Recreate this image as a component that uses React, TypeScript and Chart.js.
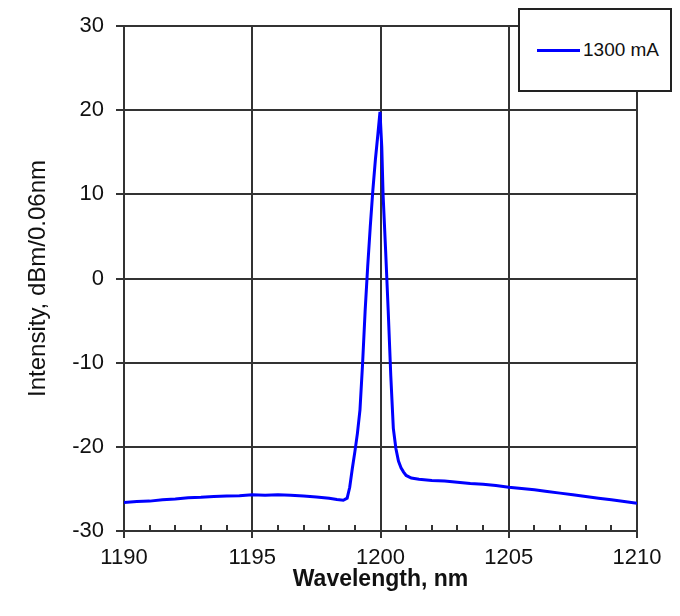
import React, { useEffect, useRef } from "react";
import { Chart, registerables } from "chart.js";

Chart.register(...registerables);

const wavelengths = [
  1190.0, 1190.5, 1191.0, 1191.5, 1192.0, 1192.5, 1193.0, 1193.5, 1194.0, 1194.5,
  1195.0, 1195.5, 1196.0, 1196.5, 1197.0, 1197.5, 1198.0, 1198.3, 1198.55, 1198.7,
  1198.8, 1198.9, 1199.0, 1199.1, 1199.2, 1199.3, 1199.4, 1199.5, 1199.6, 1199.7,
  1199.8, 1199.9, 1199.98, 1200.05, 1200.1, 1200.2, 1200.3, 1200.4, 1200.5,
  1200.6, 1200.7, 1200.8, 1200.9, 1201.0, 1201.2, 1201.5, 1202.0, 1202.5,
  1203.0, 1203.5, 1204.0, 1204.5, 1205.0, 1205.5, 1206.0, 1206.5, 1207.0, 1207.5,
  1208.0, 1208.5, 1209.0, 1209.5, 1210.0,
];

const intensity1300 = [
  -26.6, -26.5, -26.45, -26.3, -26.2, -26.05, -26.0, -25.9, -25.85, -25.8,
  -25.7, -25.75, -25.7, -25.75, -25.85, -25.95, -26.1, -26.25, -26.35, -26.1,
  -24.8, -22.6, -20.6, -18.4, -15.6, -10.2, -3.9, 1.4, 6.1, 10.4,
  14.1, 17.2, 19.8, 15.6, 10.0, 3.3, -3.8, -11.5, -17.8,
  -20.2, -21.7, -22.5, -23.0, -23.4, -23.7, -23.85, -24.0, -24.05,
  -24.2, -24.35, -24.45, -24.6, -24.8, -24.95, -25.1, -25.3, -25.5, -25.7,
  -25.9, -26.1, -26.3, -26.5, -26.7,
];

const seriesLabel = "1300 mA";
const xTitle = "Wavelength, nm";
const yTitle = "Intensity, dBm/0.06nm";
const xMin = 1190;
const xMax = 1210;
const xMajorStep = 5;
const xMinorStep = 1;
const yMin = -30;
const yMax = 30;
const yStep = 10;

const FONT = "'Liberation Sans', Arial, sans-serif";
const GRID = "#333333";

const minorTicks = {
  id: "minorTicks",
  afterDraw(chart: any) {
    const xs = chart.scales.x;
    const ctx = chart.ctx;
    const yPix = chart.chartArea.bottom;
    ctx.save();
    ctx.strokeStyle = GRID;
    ctx.lineWidth = 2;
    for (let v = xMin; v <= xMax; v += xMinorStep) {
      if (v % xMajorStep === 0) continue;
      const px = Math.round(xs.getPixelForValue(v));
      ctx.beginPath();
      ctx.moveTo(px, yPix);
      ctx.lineTo(px, yPix - 6);
      ctx.stroke();
    }
    ctx.restore();
  },
};

export default function App() {
  const ref = useRef<HTMLCanvasElement | null>(null);

  useEffect(() => {
    if (!ref.current) return;
    const data = wavelengths.map((x, i) => ({ x, y: intensity1300[i] }));
    const chart = new Chart(ref.current, {
      type: "line",
      data: {
        datasets: [
          {
            label: seriesLabel,
            data,
            borderColor: "#0000ff",
            backgroundColor: "#0000ff",
            borderWidth: 3,
            pointRadius: 0,
            tension: 0,
            fill: false,
          },
        ],
      },
      options: {
        responsive: false,
        animation: false,
        layout: { padding: { top: 26, right: 43, left: 0, bottom: 0 } },
        plugins: { legend: { display: false }, tooltip: { enabled: false } },
        scales: {
          x: {
            type: "linear",
            min: xMin,
            max: xMax,
            afterFit: (s: any) => {
              s.height = 85;
            },
            ticks: {
              stepSize: xMajorStep,
              color: "#111",
              font: { family: FONT, size: 22 },
              padding: 7,
              maxRotation: 0,
              callback: (v: any) => String(v),
            },
            grid: { color: GRID, lineWidth: 2, tickLength: 7, tickColor: GRID },
            border: { color: GRID, width: 2 },
            title: {
              display: true,
              text: xTitle,
              color: "#111",
              font: { family: FONT, size: 23, weight: "bold" },
              padding: { top: 0, bottom: 23 },
            },
          },
          y: {
            type: "linear",
            min: yMin,
            max: yMax,
            afterFit: (s: any) => {
              s.width = 124;
            },
            ticks: {
              stepSize: yStep,
              color: "#111",
              font: { family: FONT, size: 22 },
              padding: 12,
            },
            grid: { color: GRID, lineWidth: 2, tickLength: 8, tickColor: GRID },
            border: { color: GRID, width: 2 },
            title: {
              display: true,
              text: yTitle,
              color: "#111",
              font: { family: FONT, size: 24 },
              padding: { top: 24, bottom: 0 },
            },
          },
        },
      },
      plugins: [minorTicks],
    });
    return () => chart.destroy();
  }, []);

  return (
    <div style={{ position: "absolute", left: 0, top: 0, width: 680, height: 616, background: "#fff" }}>
      <canvas ref={ref} width={680} height={616} />
      <div
        style={{
          position: "absolute",
          left: 518,
          top: 8,
          width: 150,
          height: 80,
          border: "2px solid #222",
          background: "#fff",
          boxSizing: "content-box",
        }}
      >
        <div
          style={{
            position: "absolute",
            left: 17,
            top: 39,
            width: 43,
            height: 3,
            background: "#0000ff",
          }}
        />
        <div
          style={{
            position: "absolute",
            left: 63,
            top: 30,
            fontFamily: FONT,
            fontSize: 19,
            lineHeight: "20px",
            color: "#111",
            whiteSpace: "nowrap",
          }}
        >
          {seriesLabel}
        </div>
      </div>
    </div>
  );
}
